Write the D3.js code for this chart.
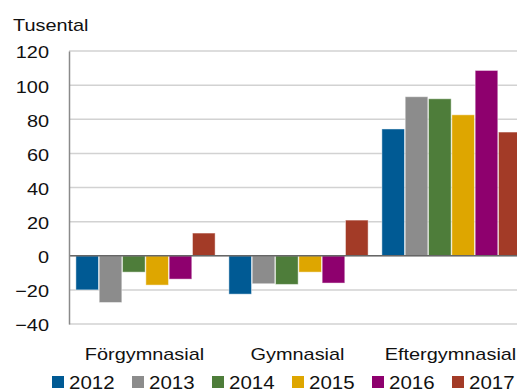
<!DOCTYPE html>
<html>
<head>
<meta charset="utf-8">
<script src="https://cdn.jsdelivr.net/npm/d3@7"></script>
<style>
  body { margin: 0; background: #fff; }
  svg { display: block; font-family: "Liberation Sans", Arial, sans-serif; }
</style>
</head>
<body>
<div id="chart"></div>
<script>
const WIDTH = 517;
const HEIGHT = 392;
const SX = 1.17; // the reference font is drawn a bit wide

const categories = ["Förgymnasial", "Gymnasial", "Eftergymnasial"];
const years = ["2012", "2013", "2014", "2015", "2016", "2017"];
const colors = ["#005a94", "#8c8c8c", "#4e7d3a", "#dea600", "#8e006e", "#a33b27"];

const v2012 = [-20, -22.5, 74.3];
const v2013 = [-27.4, -16.4, 93.2];
const v2014 = [-9.6, -16.8, 92];
const v2015 = [-17.2, -9.6, 82.6];
const v2016 = [-13.7, -16, 108.6];
const v2017 = [13.3, 20.9, 72.5];
const series = [v2012, v2013, v2014, v2015, v2016, v2017];

const yTicks = [-40, -20, 0, 20, 40, 60, 80, 100, 120];

const svg = d3.select("#chart")
    .append("svg")
        .attr("width", WIDTH)
        .attr("height", HEIGHT);

const plotLeft = 69, plotRight = 528, plotTop = 51, plotBottom = 324;

const y = d3.scaleLinear()
    .domain([-40, 120])
    .range([plotBottom, plotTop]);

const x0 = d3.scaleBand()
    .domain(categories)
    .range([plotLeft, plotRight])
    .paddingInner(0.09)
    .paddingOuter(0.045);

const x1 = d3.scaleBand()
    .domain(years)
    .range([0, x0.bandwidth()])
    .paddingInner(0.03);

// gridlines
svg.append("g")
    .selectAll("line")
    .data(yTicks)
    .enter()
    .append("line")
        .attr("x1", plotLeft)
        .attr("x2", WIDTH)
        .attr("y1", d => y(d))
        .attr("y2", d => y(d))
        .attr("stroke", "#d2d2d2")
        .attr("stroke-width", 1.5);

// bars
const groups = svg.append("g")
    .selectAll("g")
    .data(years)
    .enter()
    .append("g")
        .attr("fill", (d, i) => colors[i]);

groups.selectAll("rect")
    .data((yr, i) => series[i].map((v, j) => ({ yr, cat: categories[j], v })))
    .enter()
    .append("rect")
        .attr("x", d => x0(d.cat) + x1(d.yr))
        .attr("width", x1.bandwidth())
        .attr("y", d => y(Math.max(0, d.v)))
        .attr("height", d => Math.abs(y(d.v) - y(0)))
        .attr("stroke", "rgba(255,255,255,0.45)")
        .attr("stroke-width", 1);

// zero line and left axis
svg.append("line")
    .attr("x1", plotLeft).attr("x2", WIDTH)
    .attr("y1", y(0)).attr("y2", y(0))
    .attr("stroke", "#666").attr("stroke-width", 1.5);

const yAxis = svg.append("g")
    .attr("transform", `translate(${plotLeft},0)`)
    .call(d3.axisLeft(y).tickValues(yTicks).tickSize(0).tickPadding(0));

yAxis.select(".domain")
    .attr("stroke", "#8a8a8a")
    .attr("stroke-width", 1.5);

yAxis.selectAll(".tick text")
    .attr("x", null)
    .attr("dy", null)
    .attr("dominant-baseline", "central")
    .attr("font-size", 17)
    .attr("font-family", "Liberation Sans, Arial, sans-serif")
    .attr("fill", "#111")
    .attr("transform", `translate(-20,1) scale(${SX},1)`);

// unit label
svg.append("text")
    .attr("transform", `translate(13,31) scale(${SX},1)`)
    .attr("font-size", 17)
    .attr("fill", "#111")
    .text("Tusental");

// category labels
svg.append("g")
    .selectAll("text")
    .data(categories)
    .enter()
    .append("text")
        .attr("transform", d => `translate(${x0(d) + x0.bandwidth() / 2 - 1},360) scale(${SX},1)`)
        .attr("text-anchor", "middle")
        .attr("font-size", 17)
        .attr("fill", "#111")
        .text(d => d);

// legend
const legend = svg.append("g")
    .selectAll("g")
    .data(years)
    .enter()
    .append("g")
        .attr("transform", (d, i) => `translate(${52 + i * 80},376)`);

legend.append("rect")
    .attr("width", 12)
    .attr("height", 12)
    .attr("fill", (d, i) => colors[i]);

legend.append("text")
    .attr("transform", `translate(17,12.5) scale(${SX},1)`)
    .attr("font-size", 17.5)
    .attr("fill", "#111")
    .text(d => d);
</script>
</body>
</html>
